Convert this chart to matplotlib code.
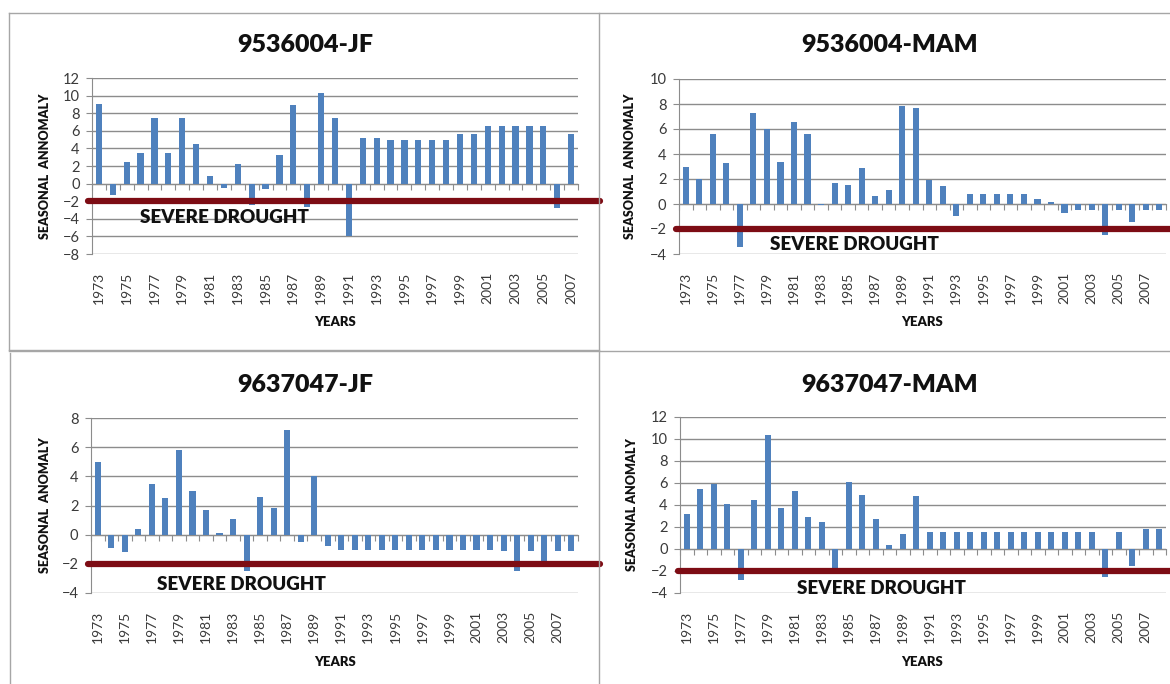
import matplotlib.pyplot as plt
from matplotlib.transforms import blended_transform_factory

plt.rcParams['font.family'] = ['Lato', 'DejaVu Sans']

# ---- data ----
years_a = list(range(1973, 2008))   # 9536004-JF
years_b = list(range(1973, 2009))   # the other three panels

jf_9536004 = [9.0, -1.3, 2.4, 3.5, 7.5, 3.5, 7.5, 4.5, 0.9, -0.5,
              2.2, -2.4, -0.6, 3.2, 8.9, -2.7, 10.3, 7.4, -6.0, 5.2,
              5.2, 5.0, 4.9, 4.9, 4.9, 4.9, 5.6, 5.6, 6.6, 6.6,
              6.6, 6.6, 6.5, -2.8, 5.6]
mam_9536004 = [3.0, 2.0, 5.6, 3.3, -3.4, 7.3, 6.0, 3.4, 6.6, 5.6,
               -0.1, 1.7, 1.55, 2.9, 0.65, 1.1, 7.85, 7.7, 1.9, 1.45,
               -0.95, 0.8, 0.8, 0.8, 0.8, 0.8, 0.4, 0.2, -0.7, -0.5,
               -0.5, -2.45, -0.5, -1.45, -0.5, -0.5]
jf_9637047 = [5.0, -0.9, -1.2, 0.4, 3.5, 2.5, 5.8, 3.0, 1.7, 0.1,
              1.1, -2.5, 2.6, 1.8, 7.2, -0.5, 4.0, -0.75, -1.05, -1.05,
              -1.05, -1.05, -1.05, -1.05, -1.05, -1.05, -1.05, -1.05, -1.05, -1.05,
              -1.1, -2.5, -1.1, -2.0, -1.1, -1.1]
mam_9637047 = [3.2, 5.5, 5.9, 4.1, -2.8, 4.5, 10.4, 3.7, 5.3, 2.9,
               2.5, -2.1, 6.1, 4.9, 2.7, 0.4, 1.35, 4.8, 1.55, 1.55,
               1.55, 1.55, 1.55, 1.55, 1.55, 1.55, 1.55, 1.55, 1.55, 1.55,
               1.55, -2.55, 1.55, -1.5, 1.8, 1.8]

drought_level = -2

W, H = 1170, 684
BAR = '#4f81bd'
GRID = '#8c8c8c'
RED = '#7d0c14'

fig = plt.figure(figsize=(W / 100, H / 100), dpi=100)


def fx(x):
    return x / W


def fy(y):
    return 1 - y / H


# panel frames
for (x0, y0, x1, y1) in [(9, 13, 1170, 13), (9, 13, 9, 350), (599, 13, 599, 684),
                         (9, 351, 1170, 351), (10, 353, 10, 684), (9, 350, 599, 350)]:
    fig.add_artist(plt.Line2D([fx(x0), fx(x1)], [fy(y0), fy(y1)], color='#a6a6a6', lw=1.0))

panels = [
    dict(title='9536004-JF', ylabel='SEASONAL  ANNOMALY', years=years_a, vals=jf_9536004,
         ylim=(-8, 12), box=(92, 78, 578, 254), title_xy=(305, 45), ylab_x=45,
         xlab_xy=(335, 322), red=(88, 600), sd_xy=(140, 218)),
    dict(title='9536004-MAM', ylabel='SEASONAL  ANNOMALY', years=years_b, vals=mam_9536004,
         ylim=(-4, 10), box=(679, 79, 1166, 254), title_xy=(890, 45), ylab_x=630,
         xlab_xy=(922, 322), red=(676, 1170), sd_xy=(770, 245)),
    dict(title='9637047-JF', ylabel='SEASONAL  ANOMALY', years=years_b, vals=jf_9637047,
         ylim=(-4, 8), box=(91, 418, 578, 593), title_xy=(305, 385), ylab_x=45,
         xlab_xy=(335, 662), red=(88, 600), sd_xy=(157, 584)),
    dict(title='9637047-MAM', ylabel='SEASONAL ANOMALY', years=years_b, vals=mam_9637047,
         ylim=(-4, 12), box=(680, 417, 1166, 593), title_xy=(890, 385), ylab_x=632,
         xlab_xy=(922, 662), red=(678, 1170), sd_xy=(797, 588)),
]

for p in panels:
    l, t, r, b = p['box']
    ax = fig.add_axes([fx(l), fy(b), fx(r - l), (b - t) / H])
    n = len(p['years'])
    xs = list(range(n))
    ax.bar(xs, p['vals'], width=0.45, color=BAR, zorder=3)
    ax.set_xlim(-0.5, n - 0.5)
    lo, hi = p['ylim']
    ax.set_ylim(lo, hi)
    ax.set_yticks(range(lo, hi + 1, 2))
    ax.yaxis.grid(True, color=GRID, lw=1.0)
    ax.set_axisbelow(True)
    for s in ['top', 'right', 'bottom']:
        ax.spines[s].set_visible(False)
    ax.spines['left'].set_color(GRID)
    ax.tick_params(axis='y', colors=GRID, length=4, pad=5, labelcolor='#3a3a3a', labelsize=10.5)
    odd = xs[::2]
    ax.set_xticks(odd, [str(p['years'][i]) for i in odd], rotation=90)
    ax.tick_params(axis='x', length=0, pad=13, labelcolor='#3a3a3a', labelsize=10)

    # category axis running through zero, ticks at the slot boundaries
    zpos = -lo / (hi - lo)
    sec = ax.secondary_xaxis(zpos)
    sec.set_xticks([i - 0.5 for i in range(n + 1)])
    sec.tick_params(axis='x', length=4, color=GRID, labelbottom=False)
    sec.spines['bottom'].set_color(GRID)

    # severe drought line across the panel
    tr = blended_transform_factory(fig.transFigure, ax.transData)
    ax.plot([fx(p['red'][0]), fx(p['red'][1])], [drought_level, drought_level],
            transform=tr, clip_on=False, color=RED, lw=4.5,
            solid_capstyle='round', zorder=5)

    fig.text(fx(p['title_xy'][0]), fy(p['title_xy'][1]), p['title'], ha='center',
             va='center', fontsize=18, fontweight='heavy', color='#111111')
    fig.text(fx(p['ylab_x']), fy((t + b) / 2), p['ylabel'], ha='center', va='center',
             rotation=90, fontsize=9, fontweight='heavy', color='#111111')
    fig.text(fx(p['xlab_xy'][0]), fy(p['xlab_xy'][1]), 'YEARS', ha='center',
             va='center', fontsize=9.5, fontweight='heavy', color='#111111')
    fig.text(fx(p['sd_xy'][0]), fy(p['sd_xy'][1]), 'SEVERE DROUGHT', ha='left',
             va='center', fontsize=13.5, fontweight='heavy', color='#111111')

fig.savefig('out.png', dpi=100)
